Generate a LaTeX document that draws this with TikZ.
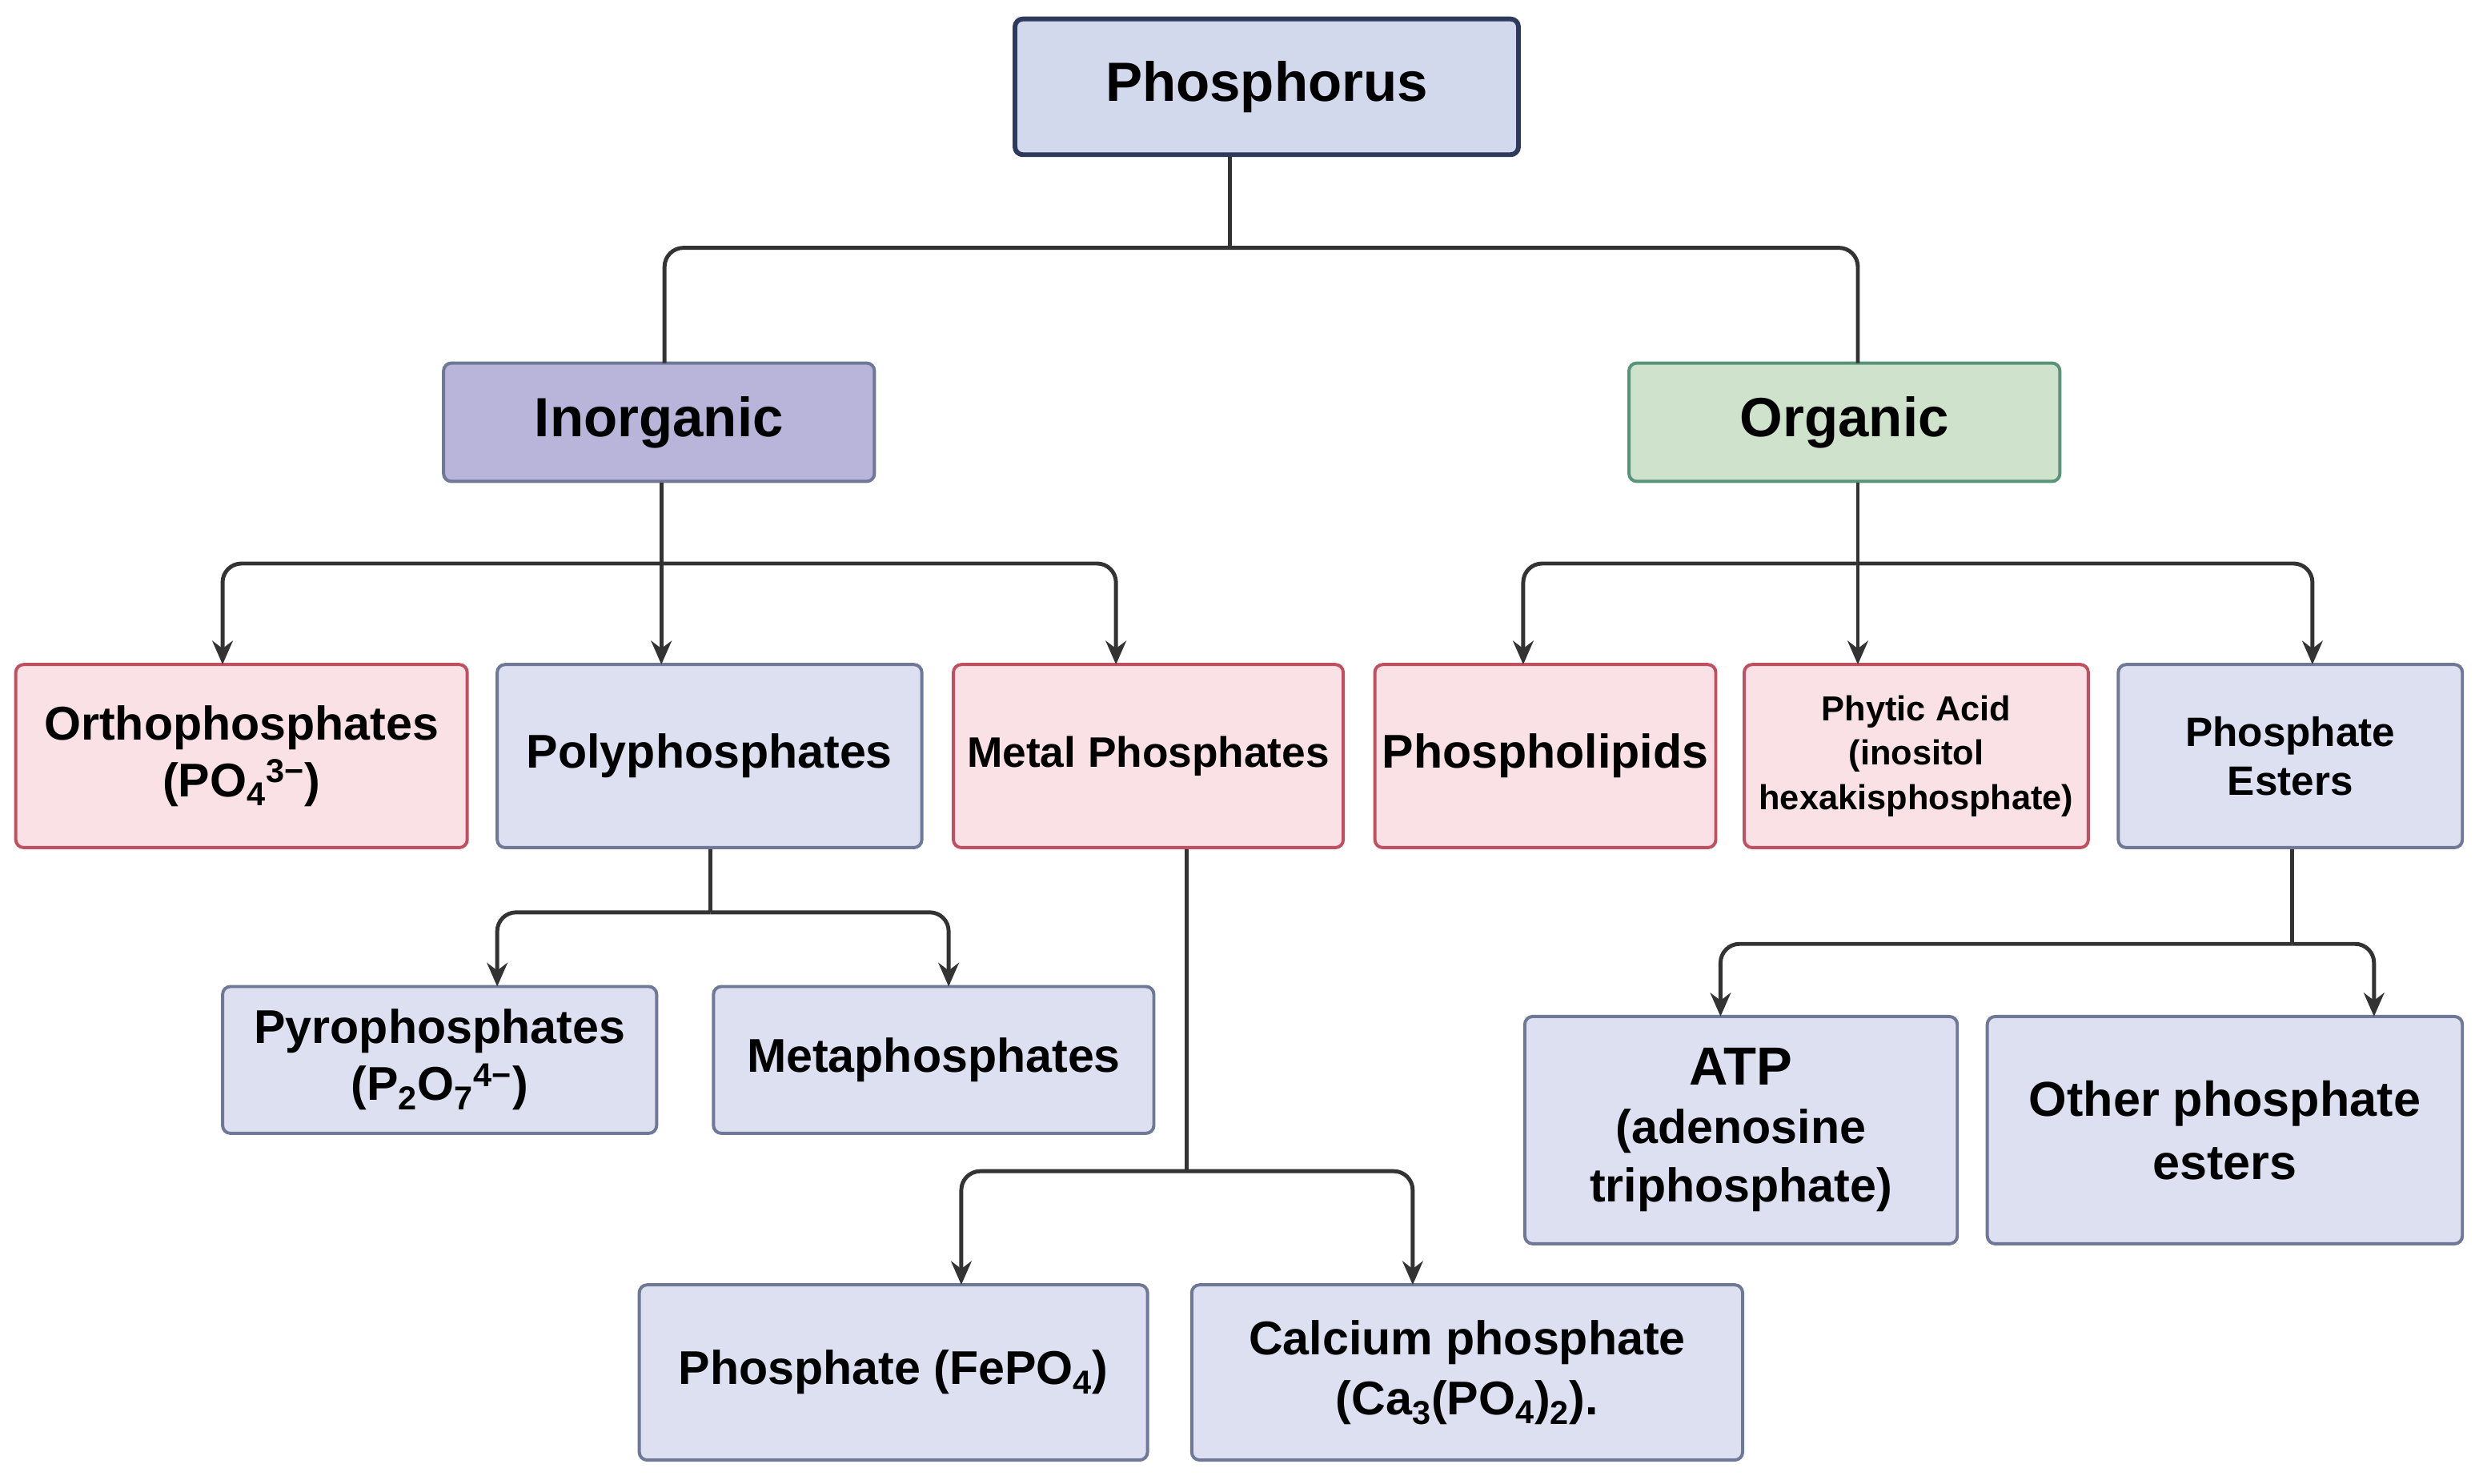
\documentclass[tikz,border=0pt]{standalone}
\usepackage{fontspec}
\setmainfont{Liberation Sans}
\usetikzlibrary{arrows.meta}
\definecolor{pink}{HTML}{F9E1E6}\definecolor{pinkb}{HTML}{C0505F}
\definecolor{lblue}{HTML}{DCE0F0}\definecolor{lblueb}{HTML}{6F7896}
\definecolor{topf}{HTML}{D3D9EC}\definecolor{topb}{HTML}{2E3A5C}
\definecolor{inorg}{HTML}{B9B4DA}\definecolor{org}{HTML}{CFE3CC}
\definecolor{ln}{HTML}{333333}
\begin{document}
\begin{tikzpicture}[x=1pt,y=-1pt,
 box/.style={draw, line width=2pt, rounded corners=5pt, font=\bfseries\fontsize{30}{34}\selectfont, align=center, inner sep=0pt},
 pk/.style={box, fill=pink, draw=pinkb},
 bl/.style={box, fill=lblue, draw=lblueb},
 ln/.style={draw=ln, line width=2.5pt, rounded corners=12pt},
 ar/.style={ln, -{Stealth[length=15pt,width=13pt]}}]
\useasboundingbox (0,0) rectangle (1568,940);
\newcommand{\bx}[6]{\node[#1, minimum width=#4-#2, minimum height=#5-#3] (#6) at ({(#2+#4)/2},{(#3+#5)/2}) {};}
\bx{box,fill=topf,draw=topb,line width=3pt}{643}{12}{962}{98}{ph}
\node[font=\bfseries\fontsize{35}{40}\selectfont] at (ph) {Phosphorus};
\bx{box,fill=inorg,draw=lblueb}{281}{230}{554}{305}{in}
\node[font=\bfseries\fontsize{35}{40}\selectfont] at (in) {Inorganic};
\bx{box,fill=org,draw=lblueb!80!green}{1032}{230}{1305}{305}{or}
\node[font=\bfseries\fontsize{35}{40}\selectfont] at (or) {Organic};
\bx{pk}{10}{421}{296}{537}{ortho}
\node[box,draw=none] at (ortho) {Orthophosphates\\[2pt](PO\textsubscript{4}\textsuperscript{3−})};
\bx{bl}{315}{421}{584}{537}{poly}
\node[box,draw=none] at (poly) {Polyphosphates};
\bx{pk}{604}{421}{851}{537}{metal}
\node[box,draw=none,font=\bfseries\fontsize{27}{30}\selectfont] at (metal) {Metal Phosphates};
\bx{pk}{871}{421}{1087}{537}{lip}
\node[box,draw=none] at (lip) {Phospholipids};
\bx{pk}{1105}{421}{1323}{537}{phy}
\node[box,draw=none,font=\bfseries\fontsize{22}{28}\selectfont] at (phy) {Phytic Acid\\(inositol\\hexakisphosphate)};
\bx{bl}{1342}{421}{1560}{537}{est}
\node[box,draw=none,font=\bfseries\fontsize{26}{31}\selectfont] at (est) {Phosphate\\Esters};
\bx{bl}{141}{625}{416}{718}{pyro}
\node[box,draw=none] at (pyro) {Pyrophosphates\\[2pt](P\textsubscript{2}O\textsubscript{7}\textsuperscript{4−})};
\bx{bl}{452}{625}{731}{718}{meta}
\node[box,draw=none] at (meta) {Metaphosphates};
\bx{bl}{405}{814}{727}{925}{fe}
\node[box,draw=none] at (fe) {Phosphate (FePO\textsubscript{4})};
\bx{bl}{755}{814}{1104}{925}{ca}
\node[box,draw=none] at (ca) {Calcium phosphate\\[4pt](Ca\textsubscript{3}(PO\textsubscript{4})\textsubscript{2}).};
\bx{bl}{966}{644}{1240}{788}{atp}
\node[box,draw=none,font=\bfseries\fontsize{30}{37}\selectfont] at (atp) {{\fontsize{34}{37}\selectfont ATP}\\(adenosine\\triphosphate)};
\bx{bl}{1259}{644}{1560}{788}{oth}
\node[box,draw=none,font=\bfseries\fontsize{31}{40}\selectfont] at (oth) {Other phosphate\\esters};
% connectors
\coordinate (j0) at (779,157);
\draw[ln] (ph.south -| j0) -- (j0);
\draw[ln] (j0) -- (421,157) -- (421,230);
\draw[ln] (j0) -- (1177,157) -- (1177,230);
\coordinate (j1) at (419,357);
\draw[ln] (in.south -| j1) -- (j1);
\draw[ar] (j1) -- (141,357) -- (141,421);
\draw[ar] (j1) -- (419,421);
\draw[ar] (j1) -- (707,357) -- (707,421);
\coordinate (j2) at (1177,357);
\draw[ln] (or.south -| j2) -- (j2);
\draw[ar] (j2) -- (965,357) -- (965,421);
\draw[ar] (j2) -- (1177,421);
\draw[ar] (j2) -- (1465,357) -- (1465,421);
\coordinate (j3) at (450,578);
\draw[ln] (poly.south -| j3) -- (j3);
\draw[ar] (j3) -- (315,578) -- (315,625);
\draw[ar] (j3) -- (601,578) -- (601,625);
\coordinate (j4) at (752,742);
\draw[ln] (metal.south -| j4) -- (j4);
\draw[ar] (j4) -- (609,742) -- (609,814);
\draw[ar] (j4) -- (895,742) -- (895,814);
\coordinate (j5) at (1452,598);
\draw[ln] (est.south -| j5) -- (j5);
\draw[ar] (j5) -- (1090,598) -- (1090,644);
\draw[ar] (j5) -- (1504,598) -- (1504,644);
\end{tikzpicture}
\end{document}
